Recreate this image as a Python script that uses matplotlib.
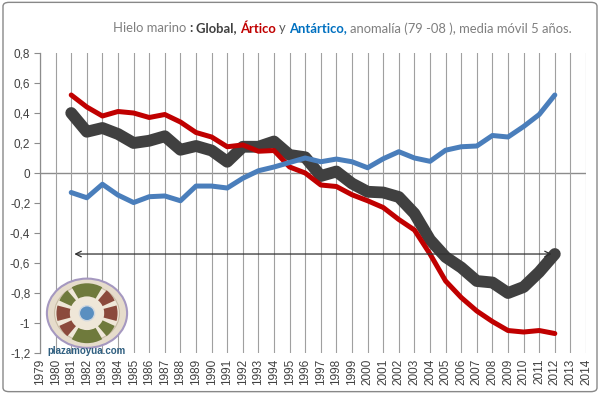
import matplotlib
matplotlib.use("Agg")
import matplotlib.pyplot as plt
from matplotlib.patches import FancyBboxPatch, Ellipse, Wedge, Circle

# datos (medias móviles 5 años, anomalía respecto a 1979-2008)
years = list(range(1981, 2013))
global_ice = [0.40, 0.275, 0.30, 0.26, 0.20, 0.215, 0.245, 0.155, 0.18, 0.15,
              0.075, 0.175, 0.175, 0.21, 0.12, 0.105, -0.02, 0.01, -0.07, -0.125,
              -0.13, -0.16, -0.27, -0.445, -0.56, -0.63, -0.72, -0.73, -0.80, -0.76,
              -0.66, -0.54]
arctic = [0.52, 0.44, 0.38, 0.41, 0.40, 0.37, 0.39, 0.34, 0.27, 0.24,
          0.175, 0.187, 0.145, 0.15, 0.04, 0.0, -0.08, -0.09, -0.145, -0.185,
          -0.23, -0.31, -0.38, -0.54, -0.72, -0.83, -0.92, -0.99, -1.05, -1.06,
          -1.05, -1.07]
antarctic = [-0.13, -0.165, -0.075, -0.147, -0.197, -0.158, -0.153, -0.185, -0.087, -0.087,
             -0.10, -0.035, 0.015, 0.04, 0.07, 0.10, 0.075, 0.093, 0.075, 0.035,
             0.095, 0.142, 0.10, 0.078, 0.152, 0.175, 0.18, 0.25, 0.24, 0.31,
             0.39, 0.52]

xtick_years = list(range(1979, 2015))
yticks = [-1.2, -1.0, -0.8, -0.6, -0.4, -0.2, 0.0, 0.2, 0.4, 0.6, 0.8]
ytick_labels = ["-1,2", "-1", "-0,8", "-0,6", "-0,4", "-0,2", "0", "0,2", "0,4", "0,6", "0,8"]

title_parts = [
    ("Hielo marino ", "#7f7f7f", "normal"),
    (": ", "#404040", "bold"),
    ("Global, ", "#404040", "bold"),
    ("Ártico ", "#c00000", "bold"),
    ("y ", "#595959", "normal"),
    ("Antártico, ", "#0070c0", "bold"),
    ("anomalía (79 -08 ), media móvil 5 años.", "#7f7f7f", "normal"),
]

plt.rcParams['font.family'] = ['Liberation Sans', 'DejaVu Sans']

fig = plt.figure(figsize=(6.0, 3.94), dpi=100)
ax = fig.add_axes([0.0667, 0.104, 0.91, 0.7615])

ax.plot(years, global_ice, color="#404040", lw=8.5, solid_capstyle="round",
        solid_joinstyle="round", zorder=3)
ax.plot(years, arctic, color="#c00000", lw=3.6, solid_capstyle="round",
        solid_joinstyle="round", zorder=4)
ax.plot(years, antarctic, color="#4a7ebb", lw=3.6, solid_capstyle="round",
        solid_joinstyle="round", zorder=5)

# flecha al nivel del último valor global
ax.annotate("", xy=(years[0] + 0.2, global_ice[-1]), xytext=(years[-1] - 0.2, global_ice[-1]),
            arrowprops=dict(arrowstyle="<->", color="#303030", lw=0.9,
                            shrinkA=0, shrinkB=0, mutation_scale=10), zorder=6)

ax.axhline(0, color="#8c8c8c", lw=1.0, zorder=1)
ax.set_xlim(1979, 2014)
ax.set_ylim(-1.2, 0.8)
ax.set_xticks(xtick_years)
ax.set_xticklabels([str(y) for y in xtick_years], rotation=90, fontsize=8.5, color="#404040")
ax.set_yticks(yticks)
ax.set_yticklabels(ytick_labels, fontsize=8.5, color="#404040")
ax.grid(axis="x", color="#a0a0a0", lw=0.8, zorder=0)
ax.tick_params(axis="x", length=0, pad=4)
ax.tick_params(axis="y", length=4, width=0.8, color="#8c8c8c", pad=3)
for s in ["top", "right", "bottom"]:
    ax.spines[s].set_visible(False)
ax.spines["left"].set_color("#8c8c8c")
ax.spines["left"].set_linewidth(0.9)

# título multicolor, ajustado al ancho del original (113 a 570 px)
fig.canvas.draw()
renderer = fig.canvas.get_renderer()


def draw_title(size, x0=113 / 600, y0=0.928):
    x = x0
    texts = []
    for txt, col, w in title_parts:
        t = fig.text(x, y0, txt, color=col, fontweight=w, fontsize=size,
                     family=["Lato", "DejaVu Sans"], va="center", ha="left")
        x += t.get_window_extent(renderer).width / fig.bbox.width
        texts.append(t)
    return x, texts


end, texts = draw_title(10)
for t in texts:
    t.remove()
size = 10 * (570 / 600 - 113 / 600) / (end - 113 / 600)
draw_title(size)

# logo aproximado de plazamoyua.com
lax = fig.add_axes([0.075, 0.11, 0.14, 0.19])
lax.set_xlim(-1.1, 1.1)
lax.set_ylim(-1.0, 1.0)
lax.axis("off")
lax.add_patch(Ellipse((0, 0), 2.1, 1.85, facecolor="#e6dccb", edgecolor="#a598c0", lw=1.5))
lax.add_patch(Ellipse((0, 0), 1.7, 1.5, facecolor="#efe7d8", edgecolor="#c9bda6", lw=0.8))
for a1, a2, c in [(60, 120, "#6f7a3c"), (240, 300, "#6f7a3c"), (165, 195, "#8b4a3c"),
                  (-15, 15, "#8b4a3c"), (25, 50, "#8b4a3c"), (130, 155, "#6f7a3c"),
                  (205, 230, "#8b4a3c"), (310, 335, "#6f7a3c")]:
    lax.add_patch(Wedge((0, 0), 0.8, a1, a2, width=0.35, facecolor=c, edgecolor="none"))
lax.add_patch(Circle((0, 0), 0.2, facecolor="#5a8fc0", edgecolor="#d0d8e0", lw=1.0))
fig.text(0.145, 0.108, "plazamoyua.com", color="#2f5f80", fontsize=7, ha="center",
         va="center", fontweight="bold")

fig.patches.append(FancyBboxPatch((0.005, 0.006), 0.99, 0.988,
                                  boxstyle="round,pad=0,rounding_size=0.01",
                                  transform=fig.transFigure, fill=False,
                                  edgecolor="#888888", lw=1.0))

fig.savefig("out.png", dpi=100)
